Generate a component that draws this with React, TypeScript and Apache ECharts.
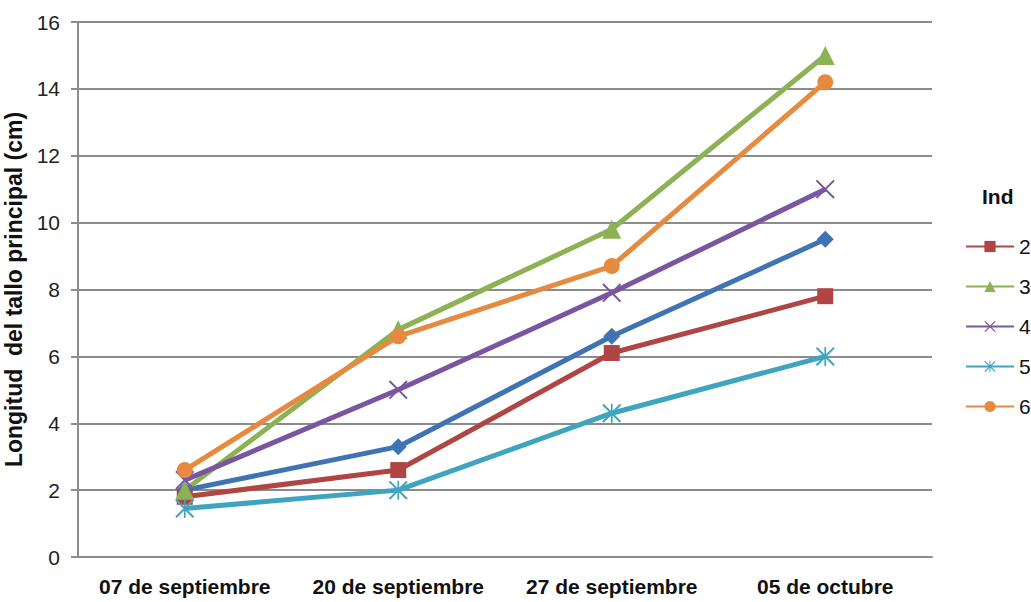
import React, { useEffect, useRef } from "react";
import * as echarts from "echarts";

const categories = ["07 de septiembre", "20 de septiembre", "27 de septiembre", "05 de octubre"];
const seriesNames = ["1", "2", "3", "4", "5", "6"];
const legendNames = ["2", "3", "4", "5", "6"];
const ind1 = [2.0, 3.3, 6.6, 9.5];
const ind2 = [1.8, 2.6, 6.1, 7.8];
const ind3 = [2.0, 6.8, 9.8, 15.0];
const ind4 = [2.3, 5.0, 7.9, 11.0];
const ind5 = [1.45, 2.0, 4.3, 6.0];
const ind6 = [2.6, 6.6, 8.7, 14.2];

const FONT = "'Liberation Sans', Arial, sans-serif";
const GRAY = "#8C8C8C";

const X_PATH =
  "path://M0,1.5 L1.5,0 L20,18.5 L18.5,20 Z M18.5,0 L20,1.5 L1.5,20 L0,18.5 Z";
const STAR_PATH =
  "path://M0,1.5 L1.5,0 L20,18.5 L18.5,20 Z M18.5,0 L20,1.5 L1.5,20 L0,18.5 Z M9.1,0 L10.9,0 L10.9,20 L9.1,20 Z";

export default function App() {
  const ref = useRef<HTMLDivElement>(null);
  useEffect(() => {
    if (!ref.current) return;
    const chart = echarts.init(ref.current, undefined, { renderer: "svg" });
    const values = [ind1, ind2, ind3, ind4, ind5, ind6];
    const colors = ["#3F73B4", "#B04643", "#8DB255", "#7A56A0", "#3FA4C0", "#E58A3F"];
    const symbols = ["diamond", "rect", "triangle", X_PATH, STAR_PATH, "circle"];
    const sizes = [17, 16, 19, 19, 19, 16];
    chart.setOption({
      animation: false,
      textStyle: { fontFamily: FONT },
      grid: { left: 78, right: 99, top: 22, bottom: 45, outerBoundsMode: "none", containLabel: false },
      xAxis: {
        type: "category",
        data: categories,
        boundaryGap: true,
        axisLine: { show: true, lineStyle: { color: GRAY, width: 2 } },
        axisTick: { show: false },
        axisLabel: {
          interval: 0,
          fontSize: 21,
          fontWeight: "bold",
          color: "#111",
          margin: 19,
          fontFamily: FONT,
        },
      },
      yAxis: {
        type: "value",
        min: 0,
        max: 16,
        interval: 2,
        name: "Longitud  del tallo principal (cm)",
        nameLocation: "middle",
        nameGap: 45,
        nameTextStyle: { fontSize: 23, fontWeight: "bold", color: "#111", fontFamily: FONT },
        axisLine: { show: true, lineStyle: { color: GRAY, width: 2 } },
        axisTick: { show: true, length: 7, lineStyle: { color: GRAY, width: 2 } },
        splitLine: { show: true, lineStyle: { color: GRAY, width: 2 } },
        axisLabel: { fontSize: 21, color: "#222", margin: 18, fontFamily: FONT },
      },
      legend: {
        data: legendNames,
        orient: "vertical",
        left: 965,
        top: 236,
        padding: 0,
        itemWidth: 48,
        itemHeight: 14,
        itemGap: 19,
        textStyle: { fontSize: 21, color: "#111", fontFamily: FONT },
      },
      graphic: [
        {
          type: "text",
          left: 982,
          top: 186,
          style: { text: "Ind", fontSize: 21, fontWeight: "bold", fill: "#111", fontFamily: FONT },
        },
      ],
      series: seriesNames.map((name, i) => ({
        name,
        type: "line",
        data: values[i],
        symbol: symbols[i],
        symbolSize: sizes[i],
        showSymbol: true,
        color: colors[i],
        lineStyle: { width: 5, color: colors[i] },
        itemStyle: { color: colors[i], borderWidth: 0 },
        emphasis: { disabled: true },
      })),
    });
    return () => chart.dispose();
  }, []);
  return (
    <div
      ref={ref}
      style={{ position: "absolute", left: 0, top: 0, width: 1031, height: 602, background: "#fff" }}
    />
  );
}
